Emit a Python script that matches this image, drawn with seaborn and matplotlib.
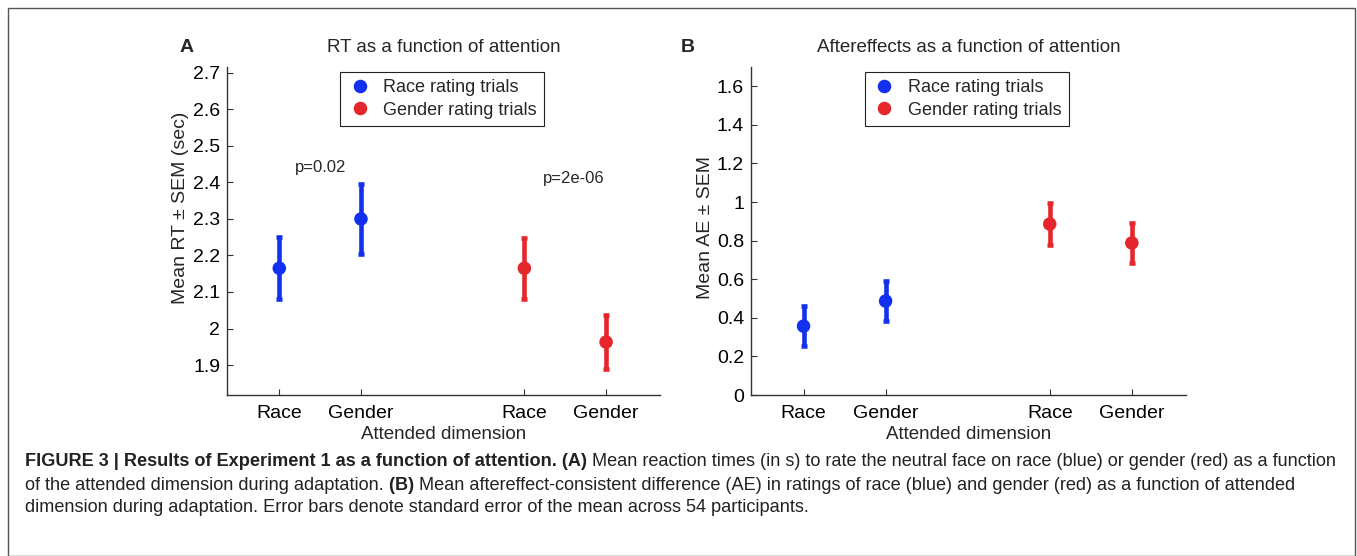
import matplotlib
matplotlib.use("Agg")
import matplotlib.pyplot as plt
import seaborn as sns
import pandas as pd
from matplotlib.patches import Rectangle

# ---------------- data ----------------
conditions = ["Race", "Gender", "Race", "Gender"]
positions = [1, 2, 4, 5]
series = ["Race rating trials", "Race rating trials", "Gender rating trials", "Gender rating trials"]

rt_mean = [2.165, 2.300, 2.165, 1.963]
rt_sem = [0.085, 0.095, 0.083, 0.075]

ae_mean = [0.357, 0.487, 0.886, 0.788]
ae_sem = [0.104, 0.104, 0.110, 0.106]

p_labels = ["p=0.02", "p=2e-06"]

colors = {"Race rating trials": "#1230ee", "Gender rating trials": "#e5262a"}

sns.set_theme(style="white")
plt.rcParams["font.family"] = ["Liberation Sans", "DejaVu Sans"]

W, H = 1357, 556
fig = plt.figure(figsize=(W / 100, H / 100), dpi=100)

def px_axes(l, t, r, b):
    return fig.add_axes([l / W, 1 - b / H, (r - l) / W, (b - t) / H])

axA = px_axes(227, 67, 660, 395)
axB = px_axes(751, 67, 1186, 395)

def draw(ax, means, sems, ylim, yticks, yticklabels, ylabel, title, ylabel_xy):
    df = pd.DataFrame({"x": positions, "y": means, "sem": sems, "series": series})
    for i, row in df.iterrows():
        ax.errorbar(row["x"], row["y"], yerr=row["sem"], fmt="none",
                    ecolor=colors[row["series"]], elinewidth=3.3, capsize=2.5,
                    capthick=3.3, zorder=2)
    sns.scatterplot(data=df, x="x", y="y", hue="series", palette=colors,
                    s=95, edgecolor="none", ax=ax, zorder=3, legend=True)
    ax.set_xlim(0.36, 5.66)
    ax.set_ylim(*ylim)
    ax.set_xticks(positions)
    ax.set_xticklabels(conditions)
    ax.set_yticks(yticks)
    ax.set_yticklabels(yticklabels)
    ax.set_xlabel("Attended dimension", fontsize=13.5, labelpad=3)
    ax.set_ylabel(ylabel, fontsize=14)
    ax.yaxis.set_label_coords(*ylabel_xy)
    ax.set_title(title, fontsize=13.5, pad=11)
    for s in ["top", "right"]:
        ax.spines[s].set_visible(False)
    for s in ["left", "bottom"]:
        ax.spines[s].set_color("#333333")
        ax.spines[s].set_linewidth(1.0)
    ax.tick_params(axis="both", direction="in", length=4, width=0.8,
                   colors="#333333", labelsize=14, labelcolor="black",
                   left=True, bottom=True)
    ax.tick_params(axis="x", pad=7)
    ax.tick_params(axis="y", pad=5)
    leg = ax.legend(loc="upper left", bbox_to_anchor=(0.261, 0.985),
                    borderaxespad=0, fancybox=False, framealpha=1,
                    edgecolor="#222222", fontsize=13, handletextpad=0.6,
                    borderpad=0.4, labelspacing=0.3, handlelength=1.4,
                    markerscale=1.0)
    leg.get_frame().set_linewidth(0.8)
    return ax

draw(axA, rt_mean, rt_sem, (1.818, 2.716),
     [1.9, 2.0, 2.1, 2.2, 2.3, 2.4, 2.5, 2.6, 2.7],
     ["1.9", "2", "2.1", "2.2", "2.3", "2.4", "2.5", "2.6", "2.7"],
     "Mean RT \u00b1 SEM (sec)", "RT as a function of attention", (-0.088, 0.57))
draw(axB, ae_mean, ae_sem, (0, 1.70),
     [0, 0.2, 0.4, 0.6, 0.8, 1.0, 1.2, 1.4, 1.6],
     ["0", "0.2", "0.4", "0.6", "0.8", "1", "1.2", "1.4", "1.6"],
     "Mean AE \u00b1 SEM", "Aftereffects as a function of attention", (-0.086, 0.51))

# p-values (panel A)
axA.text(1.5, 2.44, p_labels[0], ha="center", va="center", fontsize=12)
axA.text(4.6, 2.41, p_labels[1], ha="center", va="center", fontsize=12)

# panel letters
fig.text(187 / W, 1 - 47 / H, "A", fontsize=14, fontweight="bold", ha="center", va="center")
fig.text(688 / W, 1 - 47 / H, "B", fontsize=14, fontweight="bold", ha="center", va="center")

# outer frame
fig.patches.append(Rectangle((8 / W, 0), (1355 - 8) / W, (H - 8) / H,
                             transform=fig.transFigure, fill=False,
                             edgecolor="#555555", linewidth=1.0))

# caption
cap_size = 13.05
renderer = fig.canvas.get_renderer()

def runs(x_px, y_px, parts):
    x = x_px / W
    for txt, bold in parts:
        t = fig.text(x, 1 - y_px / H, txt, fontsize=cap_size,
                     fontweight="bold" if bold else "normal", color="#222222",
                     ha="left", va="center")
        bb = t.get_window_extent(renderer=renderer)
        x += bb.width / W

runs(25, 462, [("FIGURE 3 | Results of Experiment 1 as a function of attention. (A)", True),
               (" Mean reaction times (in s) to rate the neutral face on race (blue) or gender (red) as a function", False)])
runs(25, 485, [("of the attended dimension during adaptation.", False), (" (B)", True),
               (" Mean aftereffect-consistent difference (AE) in ratings of race (blue) and gender (red) as a function of attended", False)])
runs(25, 508, [("dimension during adaptation. Error bars denote standard error of the mean across 54 participants.", False)])

fig.savefig("out.png", dpi=100)
